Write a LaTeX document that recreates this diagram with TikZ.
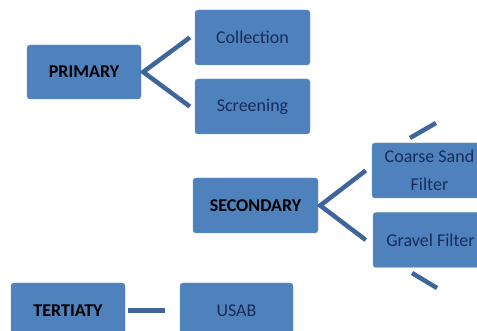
\documentclass[tikz,border=0pt]{standalone}
\usepackage{fontspec}
\setmainfont{Carlito}
\usepackage{tikz}

\definecolor{boxblue}{RGB}{79,129,189}
\definecolor{boxedge}{RGB}{100,148,204}
\definecolor{linkblue}{RGB}{62,102,155}
\definecolor{navytext}{RGB}{23,45,90}

\begin{document}
\begin{tikzpicture}[x=1pt,y=-1pt]
    \useasboundingbox (0,0) rectangle (477,331);
    \begin{scope}[every node/.style={rectangle,rounded corners=3pt,fill=boxblue,draw=boxedge,thin,
        minimum width=115pt,minimum height=55pt,inner sep=0pt,align=center,
        text=navytext,font=\fontsize{18}{28}\selectfont}]
      \node[font=\fontsize{18}{28}\selectfont\bfseries,text=black,minimum width=114pt,minimum height=54pt] (prim) at (84,72) {PRIMARY};
      \node (coll) at (252.5,37.5) {Collection};
      \node (scr) at (252.5,106.5) {Screening};
      \node[font=\fontsize{18}{28}\selectfont\bfseries,text=black,minimum width=125pt] (sec) at (255.5,205.5) {SECONDARY};
      \node (csf) at (429.5,170.5) {Coarse Sand\\Filter};
      \node (gf) at (430.5,240) {Gravel Filter};
      \node[font=\fontsize{18}{28}\selectfont\bfseries,text=black,minimum width=114pt] (ter) at (68,310.5) {TERTIATY};
      \node[minimum width=113pt] (usab) at (236.5,310.5) {USAB};
    \end{scope}
    % pieces of links that run off the page
    \coordinate (cut1a) at (410,138);
    \coordinate (cut1b) at (436,123);
    \coordinate (cut2a) at (412,273);
    \coordinate (cut2b) at (437,288);
    \begin{scope}[every path/.style={draw=linkblue,line width=4.5pt}]
      \path ([xshift=-5pt]coll.west) -- ([xshift=2pt]prim.east) -- ([xshift=-5pt]scr.west);
      \path ([xshift=-6pt]csf.west) -- ([xshift=2pt]sec.east) -- ([xshift=-7pt]gf.west);
      \path (cut1a) -- (cut1b);
      \path (cut2a) -- (cut2b);
      \path ([xshift=3pt]ter.east) -- ([xshift=-15pt]usab.west);
    \end{scope}
  \end{tikzpicture}
\end{document}
